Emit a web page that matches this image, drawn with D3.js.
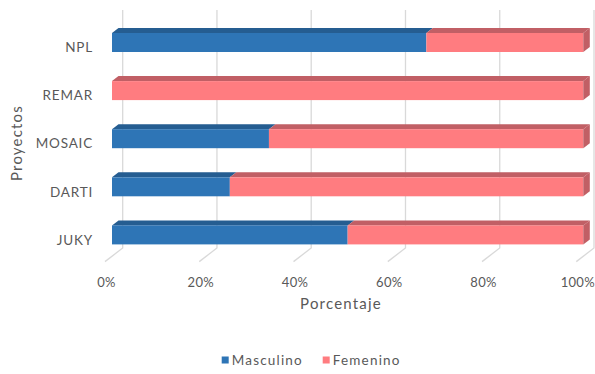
<!DOCTYPE html>
<html>
<head>
<meta charset="utf-8">
<script src="https://cdn.jsdelivr.net/npm/d3@7"></script>
<style>
  html, body { margin: 0; padding: 0; background: #fff; }
  svg { display: block; font-family: Lato, "Open Sans", sans-serif; }
</style>
</head>
<body>
<svg id="chart" width="595" height="374"></svg>
<script>
const categories = ["NPL", "REMAR", "MOSAIC", "DARTI", "JUKY"];
const masculino = [66.7, 0, 33.3, 25, 50];
const femenino = [33.3, 100, 66.7, 75, 50];
const tickValues = [0, 20, 40, 60, 80, 100];
const seriesNames = ["Masculino", "Femenino"];
const seriesColors = ["#2E75B6", "#FF7C80"];
const seriesTopColors = ["#255D91", "#C15F65"];

const svg = d3.select("#chart");
const textColor = "#595959";

const x = d3.scaleLinear().domain([0, 100]).range([112, 583.3]);
const y = d3.scaleBand().domain(categories).range([18.45, 258.95])
  .paddingInner(0.605).paddingOuter(0.3025);

// oblique depth projection
const uy = -0.77;           // vertical shift per unit of depth (x shift = 1)
const barDepth = 6.5;
const backZ = 10.7;
const floorZ = -7;
const floorBackY = 248;
const gridTopY = 10;

// gridlines on back wall and floor
const grid = svg.append("g");
tickValues.forEach(v => {
  const bx = x(v) + backZ;
  grid.append("path")
    .attr("d", `M${bx},${gridTopY} L${bx},${floorBackY} L${x(v) + floorZ},${floorBackY - (backZ - floorZ) * uy}`)
    .attr("fill", "none")
    .attr("stroke", "#D9D9D9")
    .attr("stroke-width", 1.3);
});

// bars
const stacked = categories.map((c, i) => {
  const m = masculino[i], f = femenino[i];
  return [
    { cat: c, s: 0, x0: 0, x1: m },
    { cat: c, s: 1, x0: m, x1: m + f }
  ];
});

const bars = svg.append("g");
stacked.forEach(row => {
  row.forEach(seg => {
    if (seg.x1 - seg.x0 <= 0) return;
    const x0 = x(seg.x0), x1 = x(seg.x1);
    const yt = y(seg.cat), h = y.bandwidth();
    const dx = barDepth, dy = barDepth * uy;
    // top face
    bars.append("path")
      .attr("d", `M${x0},${yt} L${x0 + dx},${yt + dy} L${x1 + dx},${yt + dy} L${x1},${yt} Z`)
      .attr("fill", seriesTopColors[seg.s]);
    // front face
    bars.append("rect")
      .attr("x", x0).attr("y", yt)
      .attr("width", x1 - x0).attr("height", h)
      .attr("fill", seriesColors[seg.s]);
    // right side face for the last segment
    if (seg.x1 >= 99.9) {
      bars.append("path")
        .attr("d", `M${x1},${yt} L${x1 + dx},${yt + dy} L${x1 + dx},${yt + h + dy} L${x1},${yt + h} Z`)
        .attr("fill", seriesTopColors[seg.s]);
    }
  });
});

// category axis (labels on the floor-front plane)
const yAxis = d3.axisLeft(y).tickSize(0).tickPadding(0);
const yg = svg.append("g")
  .attr("transform", `translate(93, ${-floorZ * -uy})`)
  .call(yAxis);
yg.select(".domain").remove();
yg.selectAll("text")
  .attr("fill", textColor)
  .style("font-size", "13.5px")
  .style("letter-spacing", "0.8px")
  .style("font-family", "Lato, 'Open Sans', sans-serif");

// value axis
const xAxis = d3.axisBottom(x).tickValues(tickValues)
  .tickFormat(d => d + "%").tickSize(0).tickPadding(0);
const xg = svg.append("g")
  .attr("transform", `translate(-6, 278)`)
  .call(xAxis);
xg.select(".domain").remove();
xg.selectAll("text")
  .attr("fill", textColor)
  .style("font-size", "13px")
  .style("letter-spacing", "0.3px")
  .style("font-family", "Lato, 'Open Sans', sans-serif");

// axis titles
svg.append("text")
  .attr("x", 341).attr("y", 309)
  .attr("text-anchor", "middle")
  .attr("fill", textColor)
  .style("font-size", "15px")
  .style("letter-spacing", "1.2px")
  .text("Porcentaje");

svg.append("text")
  .attr("transform", "translate(22, 143) rotate(-90)")
  .attr("text-anchor", "middle")
  .attr("fill", textColor)
  .style("font-size", "15px")
  .style("letter-spacing", "1.2px")
  .text("Proyectos");

// legend
const legendX = [221.7, 322.7];
const legend = svg.append("g");
seriesNames.forEach((name, i) => {
  legend.append("rect")
    .attr("x", legendX[i]).attr("y", 356.5)
    .attr("width", 7).attr("height", 7)
    .attr("fill", seriesColors[i]);
  legend.append("text")
    .attr("x", legendX[i] + 10).attr("y", 364.5)
    .attr("fill", textColor)
    .style("font-size", "13.5px")
    .style("letter-spacing", "1.2px")
    .text(name);
});
</script>
</body>
</html>
